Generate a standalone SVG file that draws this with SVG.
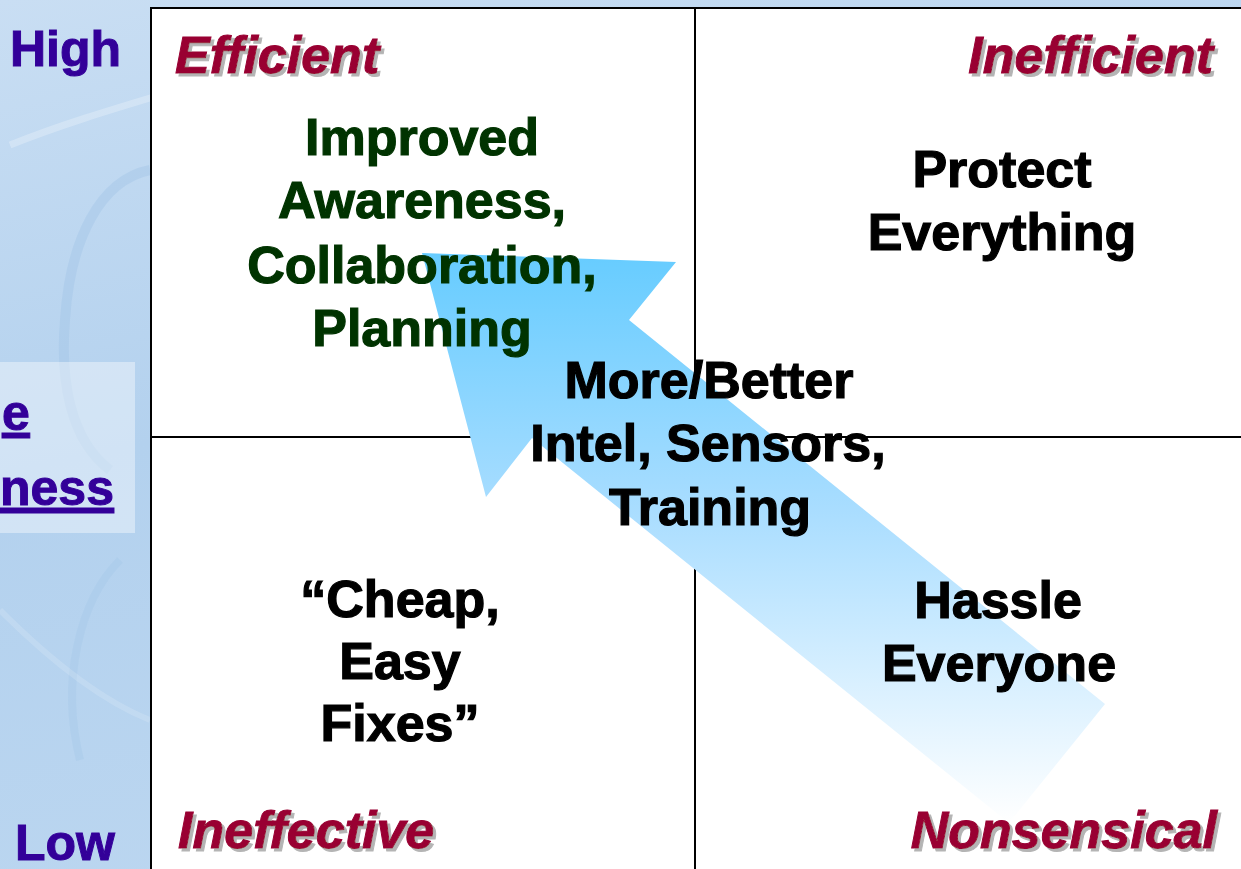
<svg xmlns="http://www.w3.org/2000/svg" width="1241" height="869" viewBox="0 0 1241 869">
<defs>
<linearGradient id="bg" x1="0" y1="0" x2="0.3" y2="1">
<stop offset="0" stop-color="#C9DEF3"/>
<stop offset="0.5" stop-color="#B3D1EE"/>
<stop offset="1" stop-color="#BBD6F0"/>
</linearGradient>
<linearGradient id="arrowFill" gradientUnits="userSpaceOnUse" x1="0" y1="253" x2="0" y2="823">
<stop offset="0" stop-color="#66CCFF"/>
<stop offset="0.45" stop-color="#A9DDFF"/>
<stop offset="1" stop-color="#FFFFFF"/>
</linearGradient>
<filter id="shadow" x="-5%" y="-10%" width="115%" height="130%">
<feOffset in="SourceAlpha" dx="3" dy="3" result="off"/>
<feFlood flood-color="#B4B4B4"/>
<feComposite in2="off" operator="in" result="sh"/>
<feMerge><feMergeNode in="sh"/><feMergeNode in="SourceGraphic"/></feMerge>
</filter>
<style>
.big{font-family:"Liberation Sans",Arial,sans-serif;font-weight:bold;font-size:52px;text-anchor:middle;stroke-width:1.2}
.blk{fill:#000000;stroke:#000000}
.grn{fill:#003300;stroke:#003300}
.quad{font-family:"Liberation Sans",Arial,sans-serif;font-weight:bold;font-style:italic;font-size:52px;fill:#990033;stroke:#990033;stroke-width:1;filter:url(#shadow)}
.axis{font-family:"Liberation Sans",Arial,sans-serif;font-weight:bold;font-size:50px;fill:#330099;stroke:#330099;stroke-width:1}
.grid{stroke:#000000;stroke-width:2;fill:none}
</style>
</defs>

<g id="background">
<rect x="0" y="0" width="1241" height="869" fill="url(#bg)"/>
<path d="M10 145 C60 125 110 110 160 95" stroke="#FFFFFF" stroke-opacity="0.25" stroke-width="7" fill="none"/>
<path d="M150 170 C100 180 70 240 65 320 C60 380 70 440 110 470" stroke="#9FC2E6" stroke-opacity="0.4" stroke-width="10" fill="none"/>
<path d="M120 560 C80 600 60 680 80 760" stroke="#A6C7E8" stroke-opacity="0.4" stroke-width="8" fill="none"/>
<path d="M0 610 C50 660 100 700 150 720" stroke="#FFFFFF" stroke-opacity="0.15" stroke-width="6" fill="none"/>
<rect x="0" y="362" width="135" height="171" fill="#FFFFFF" fill-opacity="0.4"/>
</g>

<g id="axis-labels">
<text class="axis" x="10" y="66">High</text>
<text class="axis" x="15" y="860">Low</text>
<text class="axis" x="2" y="430" text-decoration="underline">e</text>
<text class="axis" x="0" y="505" text-decoration="underline">ness</text>
</g>

<g id="matrix">
<rect x="151" y="8" width="1100" height="880" fill="#FFFFFF" stroke="#000000" stroke-width="2"/>
<line class="grid" x1="695" y1="8" x2="695" y2="869"/>
<line class="grid" x1="151" y1="437" x2="1241" y2="437"/>
</g>

<g id="connectors">
<polygon id="arrow" points="422,253 676,262 629,320 1105,704 1009,823 532,438 486,497" fill="url(#arrowFill)"/>
</g>

<g id="quadrant-labels">
<g id="q-efficient"><text class="quad" x="175" y="73">Efficient</text></g>
<g id="q-inefficient"><text class="quad" x="1213" y="73" text-anchor="end">Inefficient</text></g>
<g id="q-ineffective"><text class="quad" x="178" y="848">Ineffective</text></g>
<g id="q-nonsensical"><text class="quad" x="1217" y="848" text-anchor="end">Nonsensical</text></g>
</g>

<g id="node-improved">
<text class="big grn" x="422" y="155">Improved</text>
<text class="big grn" x="422" y="218">Awareness,</text>
<text class="big grn" x="422" y="283">Collaboration,</text>
<text class="big grn" x="422" y="346">Planning</text>
</g>

<g id="node-protect">
<text class="big blk" x="1002" y="187">Protect</text>
<text class="big blk" x="1002" y="250">Everything</text>
</g>

<g id="node-more">
<text class="big blk" x="709" y="398">More/Better</text>
<text class="big blk" x="708" y="461">Intel, Sensors,</text>
<text class="big blk" x="710" y="525">Training</text>
</g>

<g id="node-cheap">
<text class="big blk" x="400" y="617">“Cheap,</text>
<text class="big blk" x="400" y="679">Easy</text>
<text class="big blk" x="400" y="741">Fixes”</text>
</g>

<g id="node-hassle">
<text class="big blk" x="998" y="618">Hassle</text>
<text class="big blk" x="999" y="681">Everyone</text>
</g>
</svg>
